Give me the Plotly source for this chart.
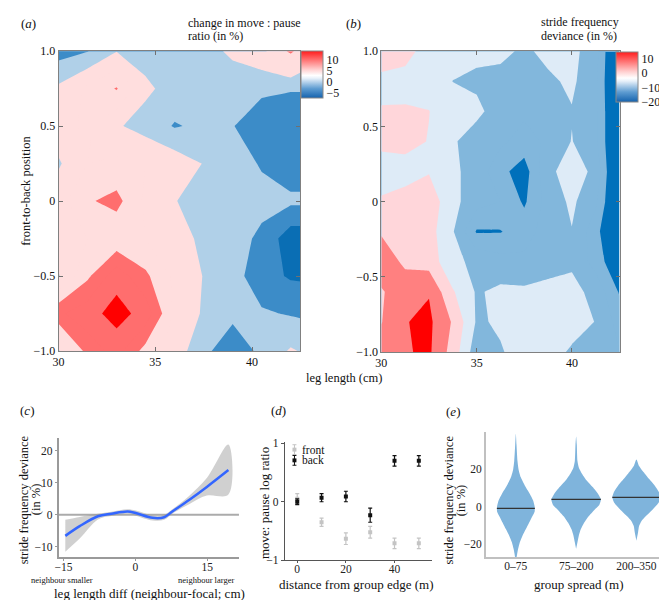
import plotly.graph_objects as go

FONT = 'Liberation Serif'
W, H = 667, 600

# (a) change in move : pause ratio (%), grid of leg length x front-to-back position
a_leg = [30, 31.5, 33, 34.5, 36, 37.5, 39, 40.5, 42, 43.5]
a_pos = [-1, -0.75, -0.5, -0.25, 0, 0.25, 0.5, 0.75, 1]
a_ratio = [
    [-0.3, 6.0, 8.5, 4.0, 1.5, -2.0, -3.8, -2.0, 0.3, -1.0],
    [7.0, 9.0, 11.0, 9.0, 2.0, -0.3, -2.0, -2.2, -2.7, -3.0],
    [-0.2, 4.5, 9.0, 5.5, 2.0, -0.1, -1.5, -4.0, -5.3, -5.5],
    [2.0, 2.5, 3.0, 2.5, 1.0, -0.5, -1.5, -3.0, -6.5, -6.5],
    [1.5, 4.7, 5.8, 2.0, 0.1, -1.0, -1.5, -1.8, -2.0, -2.0],
    [-0.3, 2.5, 3.0, 2.5, 1.5, -0.1, -1.5, -2.7, -4.0, -4.0],
    [1.5, 3.0, 0.3, -1.0, -2.7, -2.0, -2.4, -4.0, -4.5, -4.5],
    [0.5, 3.0, 5.2, 0.5, -1.0, -1.2, -1.5, -2.0, -2.3, -2.3],
    [-3.5, -2.6, -0.1, -1.0, -1.5, -1.0, 0.5, 2.0, 5.5, 1.0],
]
a_bands = ['#0A6EB4', '#3C8CC8', '#B0D0E8', '#FFDEDE', '#FFDEDE',
           '#FF6E6E', '#FF6E6E', '#FF0000']

# (b) stride frequency deviance (%)
b_leg = [30, 31.25, 32.5, 33.75, 35, 36.25, 37.5, 38.75, 40, 41.25, 42.5]
b_pos = [-1, -0.8, -0.6, -0.4, -0.2, 0, 0.2, 0.4, 0.6, 0.8, 1]
b_dev = [
    [7, 9.6, 10.8, 3, -8, -5.3, -3.5, -3.5, -5.5, -7, -10],
    [4.8, 9.8, 11, 4.5, -5.5, -4.5, -3.5, -3, -3.5, -5.1, -12],
    [4.5, 8, 9.7, 0.5, -5.5, -4, -4, -3.5, -3.5, -6.5, -15.5],
    [8, 4, 3, -4, -6, -8, -9, -7, -5.8, -12, -20],
    [4.5, 3.5, 2, -4.5, -15.5, -15.3, -12, -8, -5.2, -13, -24],
    [0.5, 2, 3, -3.5, -8, -10, -15.8, -8, -4, -9, -24],
    [-2, -2, -0.3, -4, -7, -13.5, -17.5, -6, -3, -6, -25],
    [1, 1.5, -0.2, -4.5, -7, -9, -12, -9, -4.8, -9, -24],
    [0.5, 0.6, 0.1, -3, -4, -7, -9, -8, -5.3, -9, -24],
    [-2, -2, -2.5, -5.05, -5.8, -7, -8, -6, -4, -9, -25],
    [4.5, 2, -2.5, -3, -4, -3.5, -6, -3.5, -3.5, -8, -25],
]
b_bands = ['#0070BB', '#82B7DC', '#82B7DC', '#DEEBF7', '#FFD6DA',
           '#FF8080', '#FF0000']

bar_scale = [[0, '#1462AD'], [0.2, '#5E9CD1'], [0.42, '#E8F1FA'],
             [0.48, '#FFFFFF'], [0.6, '#FFD2D2'], [1, '#FF1C1C']]

# (c) smooth fit of stride frequency deviance vs leg length difference
c_diff = [-14.6, -11.6, -7.8, -5.0, -1.6, 0.1, 3.6, 6.0, 7.7, 11.2, 14.9, 19.4]
c_fit = [-6.65, -3.6, -0.5, 0.3, 1.0, 0.5, -1.0, -0.8, 1.0, 4.6, 8.7, 14.0]
c_lo = [-11.6, -7.5, -1.5, -0.4, 0.3, -0.3, -1.8, -1.6, 0.3, 3.3, 6.0, 6.3]
c_hi = [-1.6, -0.7, 0.3, 0.9, 1.7, 1.3, -0.2, 0.0, 1.7, 5.9, 11.5, 22.0]

# (d) move:pause log ratio by distance from group edge
d_dist = [0, 10, 20, 30, 40, 50]
d_front = [0.05, -0.35, -0.63, -0.52, -0.71, -0.71]
d_front_err = [0.09, 0.07, 0.10, 0.10, 0.09, 0.09]
d_back = [0.0, 0.07, 0.09, -0.23, 0.70, 0.70]
d_back_err = [0.05, 0.07, 0.09, 0.12, 0.09, 0.09]
d_names = ['front', 'back']
d_colors = ['#C4C4C4', '#111111']

# (e) violins: outline half-widths (category units) read at deviance levels
e_groups = ['0–75', '75–200', '200–350']
e_y = [
    [39.1, 33.0, 24.3, 20.0, 15.6, 11.3, 6.9, 3.4, 0, -2.6, -5.2, -8.7,
     -12.2, -15.6, -19.1, -22.6, -25.2, -27.0],
    [37.4, 33.0, 24.3, 20.9, 17.4, 13.9, 10.4, 6.9, 3.8, 0.8, -1.8, -5.2,
     -8.7, -12.2, -15.6, -19.1, -22.6],
    [25.2, 21.7, 18.3, 14.8, 11.3, 7.8, 4.9, 1.7, -1.8, -5.2, -7.8, -10.4,
     -13.9, -18.3],
]
e_half = [
    [0, 0.011, 0.027, 0.044, 0.082, 0.148, 0.23, 0.285, 0.312, 0.312, 0.274,
     0.219, 0.164, 0.11, 0.066, 0.038, 0.022, 0.011],
    [0, 0.011, 0.022, 0.044, 0.099, 0.175, 0.274, 0.362, 0.411, 0.384, 0.302,
     0.208, 0.132, 0.077, 0.044, 0.022, 0],
    [0, 0.044, 0.121, 0.208, 0.302, 0.373, 0.40, 0.362, 0.263, 0.154, 0.082,
     0.044, 0.027, 0],
]
e_median = [-1.0, 3.8, 4.9]
e_median_half = [0.315, 0.41, 0.40]


def px(x0, x1):
    return [x0 / W, x1 / W]


def py(top, bottom):
    return [1 - bottom / H, 1 - top / H]


def note(text, x, y, size=12, angle=0, xanchor='center', yanchor='middle'):
    return dict(text=text, x=x / W, y=1 - y / H, xref='paper', yref='paper',
                showarrow=False, textangle=angle, xanchor=xanchor,
                yanchor=yanchor, font=dict(family=FONT, size=size, color='#111'))


def paper_line(x0, y0, x1, y1, color, width=1):
    return dict(type='line', xref='paper', yref='paper', x0=x0 / W, x1=x1 / W,
                y0=1 - y0 / H, y1=1 - y1 / H, line=dict(color=color, width=width))


def key_glyph(xc, yc, color):
    # small point-with-error-bar key for the legend of panel (d)
    return [
        paper_line(xc, yc - 5, xc, yc + 5, color),
        paper_line(xc - 2, yc - 5, xc + 2, yc - 5, color),
        paper_line(xc - 2, yc + 5, xc + 2, yc + 5, color),
        dict(type='rect', xref='paper', yref='paper', x0=(xc - 2) / W,
             x1=(xc + 2) / W, y0=1 - (yc + 2) / H, y1=1 - (yc - 2) / H,
             fillcolor=color, line=dict(width=0)),
    ]


fig = go.Figure()

for zs, xs, ys, bands, start, size, end, ax in [
        (a_ratio, a_leg, a_pos, a_bands, -5, 2.5, 10, ('x', 'y')),
        (b_dev, b_leg, b_pos, b_bands, -15, 5, 10, ('x2', 'y2'))]:
    n = len(bands) - 1
    fig.add_trace(go.Contour(
        x=xs, y=ys, z=zs, autocontour=False,
        contours=dict(start=start, end=end, size=size, coloring='fill',
                      showlines=False),
        colorscale=[[k / n, c] for k, c in enumerate(bands)],
        line=dict(width=0, smoothing=0), showscale=False, hoverinfo='skip',
        xaxis=ax[0], yaxis=ax[1]))

for ax, cmin, cmax, ticks, cx, top, length in [
        (('x', 'y'), -7.7, 14.1, [10, 5, 0, -5], 290, 37, 47),
        (('x2', 'y2'), -20, 14.7, [10, 0, -10, -20], 607, 38, 50)]:
    fig.add_trace(go.Scatter(
        x=[None], y=[None], mode='markers', showlegend=False,
        marker=dict(color=[cmin], cmin=cmin, cmax=cmax, colorscale=bar_scale,
                    showscale=True,
                    colorbar=dict(x=cx / W, xanchor='left', y=1 - top / H,
                                  yanchor='top', len=length, lenmode='pixels',
                                  thickness=22, xpad=0, ypad=0,
                                  outlinecolor='#888', outlinewidth=1,
                                  tickvals=ticks, ticks='',
                                  tickfont=dict(family=FONT, size=12,
                                                color='#111'))),
        xaxis=ax[0], yaxis=ax[1]))

# (c)
fig.add_trace(go.Scatter(
    x=c_diff + c_diff[::-1], y=c_hi + c_lo[::-1], fill='toself',
    fillcolor='rgba(150,150,150,0.45)', line=dict(width=0, shape='spline'),
    mode='lines', showlegend=False, hoverinfo='skip', xaxis='x3', yaxis='y3'))
fig.add_trace(go.Scatter(
    x=c_diff, y=c_fit, mode='lines', line=dict(color='#3366FF', width=2.5,
                                               shape='spline'),
    showlegend=False, xaxis='x3', yaxis='y3'))

# (d)
for name, ys, errs, col in [(d_names[0], d_front, d_front_err, d_colors[0]),
                            (d_names[1], d_back, d_back_err, d_colors[1])]:
    fig.add_trace(go.Scatter(
        x=d_dist, y=ys, mode='markers', name=name, showlegend=False,
        marker=dict(symbol='square', size=4, color=col),
        error_y=dict(array=errs, color=col, thickness=1.2, width=2),
        xaxis='x4', yaxis='y4'))

# (e)
for i, name in enumerate(e_groups):
    c = i + 1
    xs = [c - h for h in e_half[i]] + [c + h for h in e_half[i][::-1]]
    ys = e_y[i] + e_y[i][::-1]
    fig.add_trace(go.Scatter(
        x=xs, y=ys, fill='toself', fillcolor='#7FB4DC', mode='lines',
        line=dict(width=0, color='#7FB4DC', shape='spline', smoothing=0.6),
        showlegend=False, hoverinfo='skip', xaxis='x5', yaxis='y5'))
    fig.add_trace(go.Scatter(
        x=[c - e_median_half[i], c + e_median_half[i]],
        y=[e_median[i], e_median[i]], mode='lines',
        line=dict(color='#333', width=1.2), showlegend=False,
        xaxis='x5', yaxis='y5'))

tick_font = dict(family=FONT, size=12, color='#111')
box = dict(showline=True, mirror='ticks', linecolor='#808080', linewidth=1,
           ticks='inside', ticklen=4, tickcolor='#707070', showgrid=False,
           zeroline=False, tickfont=tick_font)
pos_ticks = [-1, -0.5, 0, 0.5, 1]
pos_text = ['−1.0', '−0.5', '0', '0.5', '1.0']
open_ax = dict(showline=True, showgrid=False, zeroline=False,
               tickfont=dict(family=FONT, size=11.5, color='#222'))

shapes = [dict(type='line', xref='x3 domain', x0=0, x1=1, yref='y3',
               y0=0, y1=0, line=dict(color='#ABABAB', width=2), layer='below')]
shapes += key_glyph(283, 445, d_colors[0])
shapes += key_glyph(283, 456, d_colors[1])

fig.update_layout(
    width=W, height=H, margin=dict(l=0, r=0, t=0, b=0),
    paper_bgcolor='white', plot_bgcolor='white', showlegend=False,
    font=dict(family=FONT, color='#111'),
    xaxis=dict(domain=px(45, 289), range=[30, 42.5], tickvals=[30, 35, 40],
               anchor='y', **box),
    yaxis=dict(domain=py(37, 344), range=[-1, 1], tickvals=pos_ticks,
               ticktext=pos_text, anchor='x', **box),
    xaxis2=dict(domain=px(370.7, 611), range=[30, 42.5], tickvals=[30, 35, 40],
                anchor='y2', **box),
    yaxis2=dict(domain=py(37, 345), range=[-1, 1], tickvals=pos_ticks,
                ticktext=pos_text, anchor='x2', **box),
    xaxis3=dict(domain=px(45, 227), range=[-16.0, 21.6], tickvals=[-15, 0, 15],
                anchor='y3', linecolor='#9A9A9A', linewidth=1.5, ticks='outside',
                ticklen=2, tickcolor='#9A9A9A', ticklabelstandoff=-4, **open_ax),
    yaxis3=dict(domain=py(433, 555), range=[-13.3, 24.1],
                tickvals=[-10, 0, 10, 20], anchor='x3', linecolor='#9A9A9A',
                linewidth=1.5, ticks='outside', ticklen=2, tickcolor='#9A9A9A',
                **open_ax),
    xaxis4=dict(domain=px(273.3, 422), range=[-5.1, 55.5], tickvals=[0, 20, 40],
                anchor='y4', linecolor='#555', linewidth=1, ticks='outside',
                ticklen=2, tickcolor='#555', ticklabelstandoff=-4, **open_ax),
    yaxis4=dict(domain=py(436.7, 558.3), range=[-1.0, 1.03], tickvals=[-1, 0, 1],
                anchor='x4', linecolor='#555', linewidth=1, ticks='outside',
                ticklen=3, tickcolor='#555', **open_ax),
    xaxis5=dict(domain=px(476, 667), range=[0.5, 3.64], tickvals=[1, 2, 3],
                ticktext=e_groups, anchor='y5', linecolor='#C0C0C0',
                linewidth=1.5, ticks='', ticklabelstandoff=-3, **open_ax),
    yaxis5=dict(domain=py(426.7, 555), range=[-27, 40], tickvals=[-20, 0, 20],
                anchor='x5', linecolor='#C0C0C0', linewidth=1.5, ticks='',
                **open_ax),
    shapes=shapes,
    annotations=[
        note('(<i>a</i>)', 5, 9, 13, xanchor='left'),
        note('(<i>b</i>)', 333, 9, 13, xanchor='left'),
        note('(<i>c</i>)', 4, 405, 13, xanchor='left'),
        note('(<i>d</i>)', 257, 405, 13, xanchor='left'),
        note('(<i>e</i>)', 434, 406, 13, xanchor='left'),
        note('change in move : pause', 174, 8, 12, xanchor='left'),
        note('ratio (in %)', 174, 22, 12, xanchor='left'),
        note('stride frequency', 530, 7, 12, xanchor='left'),
        note('deviance (in %)', 530, 21, 12, xanchor='left'),
        note('front-to-back position', 12, 180, 12.5, angle=-90),
        note('leg length (cm)', 333, 372, 12.5),
        note('stride frequency deviance', 11, 496, 12.5, angle=-90),
        note('(in %)', 23, 496, 12.5, angle=-90),
        note('leg length diff (neighbour-focal; cm)', 137, 592, 13),
        note('neighbour smaller', 48, 578, 8.5),
        note('neighbour larger', 194, 578, 8.5),
        note('front', 289, 445, 11.5, xanchor='left'),
        note('back', 289, 456, 11.5, xanchor='left'),
        note('move: pause log ratio', 253, 500, 13, angle=-90),
        note('distance from group edge (m)', 346, 583, 13),
        note('stride frequency deviance', 439, 497, 12.5, angle=-90),
        note('(in %)', 451, 497, 12.5, angle=-90),
        note('group spread (m)', 570, 583, 13),
    ],
)

fig.write_html('out.html')
